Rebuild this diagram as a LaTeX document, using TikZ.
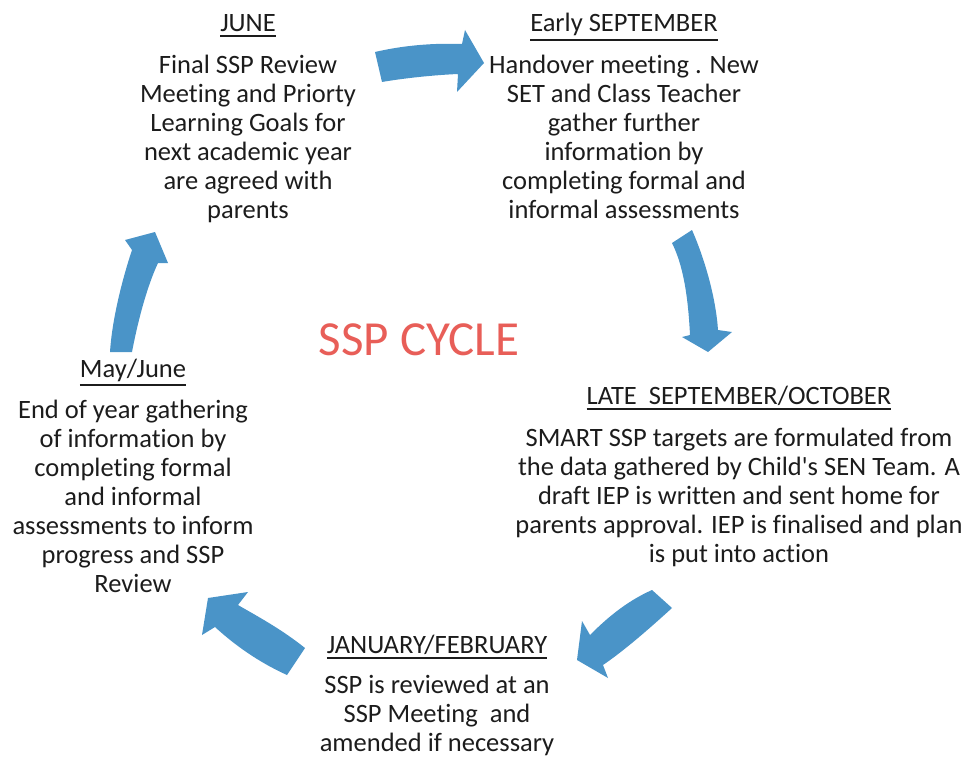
\documentclass[tikz,border=0pt]{standalone}
\usepackage{fontspec}
\setmainfont[Ligatures=NoCommon]{Carlito}
\newcommand\myul[1]{\leavevmode\vtop{\hbox{#1}\kern3pt\hrule height 1.6pt}}
\definecolor{arrowblue}{RGB}{74,148,200}
\definecolor{titlered}{RGB}{232,94,88}
\definecolor{txt}{RGB}{28,28,28}
\tikzset{
  lbl/.style={inner sep=0pt, text=txt, font=\fontsize{26.5}{29}\selectfont},
  head/.style={lbl, anchor=base},
  body/.style={lbl, anchor=north, align=center},
  arr/.style={fill=arrowblue, draw=none}
}
\begin{document}
\begin{tikzpicture}[x=1pt,y=-1pt]
\useasboundingbox (0,0) rectangle (965,757);
% stage headings
\node[head] (junet) at (248,32) {\myul{JUNE}};
\node[head] (sept) at (624,32) {\myul{Early SEPTEMBER}};
\node[head] (octt) at (739,404) {\myul{LATE\ \ SEPTEMBER/OCTOBER}};
\node[head] (mayt) at (133,377) {\myul{May/June}};
\node[head] (jant) at (437,653) {\myul{JANUARY/FEBRUARY}};
% stage texts
\node[body] (juneb) at (248,55) {Final SSP Review\\Meeting and Priorty\\Learning Goals for\\next academic year\\are agreed with\\parents};
\node[body] (septb) at (624,55) {Handover meeting . New\\SET and Class Teacher\\gather further\\information by\\completing formal and\\informal assessments};
\node[body] (octb) at (739,428) {SMART SSP targets are formulated from\\the data gathered by Child\textquotesingle s SEN Team. A\\draft IEP is written and sent home for\\parents approval. IEP is finalised and plan\\is put into action};
\node[body] (mayb) at (133,400) {End of year gathering\\of information by\\completing formal\\and informal\\assessments to inform\\progress and SSP\\Review};
\node[body] (janb) at (437,675) {SSP is reviewed at an\\SSP Meeting\ \ and\\amended if necessary};
% centre title
\node[inner sep=0pt, text=titlered, font=\fontsize{49}{52}\selectfont] (cycle) at (419,340) {SSP CYCLE};
% arrows
\fill[arr] (375,52) .. controls (405,45) and (435,43) .. (462,44)
  -- (465,30) -- (484,63) -- (457,92) -- (458,74)
  .. controls (435,75) and (405,78) .. (382,82) -- cycle;
\fill[arr] (672,243) -- (692,230) .. controls (706,262) and (716,300) .. (718,330)
  -- (732,332) -- (708,352) -- (682,337) -- (690,335)
  .. controls (688,295) and (683,265) .. (672,243) -- cycle;
\fill[arr] (652,590) -- (672,608) .. controls (650,628) and (625,650) .. (603,665)
  -- (608,678) -- (577,660) -- (582,621) -- (590,635)
  .. controls (605,620) and (625,602) .. (652,590) -- cycle;
\fill[arr] (305,648) -- (287,675) .. controls (265,665) and (240,650) .. (215,627)
  -- (202,635) -- (208,598) -- (248,592) -- (238,605)
  .. controls (255,615) and (280,628) .. (305,648) -- cycle;
\fill[arr] (110,352) -- (132,352) .. controls (140,310) and (150,280) .. (158,263)
  -- (168,263) -- (155,232) -- (125,240) -- (132,250)
  .. controls (122,280) and (112,320) .. (110,352) -- cycle;
\end{tikzpicture}
\end{document}
